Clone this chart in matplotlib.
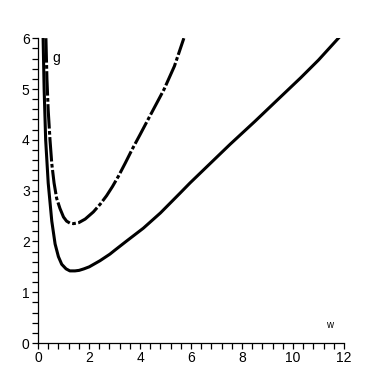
import numpy as np
import matplotlib
matplotlib.use("Agg")
import matplotlib.pyplot as plt
from matplotlib.ticker import MultipleLocator

# solid curve
solid_w = [0.20, 0.24, 0.30, 0.40, 0.54, 0.67, 0.80, 0.93, 1.10, 1.25, 1.45,
           1.61, 1.80, 2.01, 2.43, 2.82, 3.02, 3.48, 4.13, 4.80, 5.57, 5.96,
           6.60, 7.53, 8.50, 9.42, 10.30, 11.00, 11.78]
solid_g = [6.00, 5.00, 4.00, 3.15, 2.40, 1.95, 1.70, 1.55, 1.46, 1.42, 1.42,
           1.43, 1.46, 1.50, 1.62, 1.75, 1.83, 2.01, 2.26, 2.56, 2.95, 3.15,
           3.46, 3.91, 4.36, 4.80, 5.22, 5.57, 6.00]

# dash-dot curve
dash_w = [0.31, 0.35, 0.40, 0.47, 0.54, 0.63, 0.73, 0.86, 1.00, 1.12, 1.25,
          1.39, 1.60, 1.85, 2.17, 2.45, 2.69, 2.92, 3.15, 3.42, 3.70, 4.00,
          4.40, 4.94, 5.35, 5.72]
dash_g = [6.00, 5.20, 4.58, 4.00, 3.53, 3.15, 2.85, 2.65, 2.48, 2.40, 2.36,
          2.35, 2.37, 2.44, 2.58, 2.74, 2.90, 3.08, 3.28, 3.54, 3.82, 4.10,
          4.48, 4.99, 5.45, 6.00]

x_ticks = [0, 2, 4, 6, 8, 10, 12]
y_ticks = [0, 1, 2, 3, 4, 5, 6]

plt.rcParams['font.family'] = ['Liberation Sans', 'DejaVu Sans']

fig = plt.figure(figsize=(3.82, 3.82), dpi=100)
ax = fig.add_axes([0.0995, 0.102, 0.801, 0.798])

ax.plot(solid_w, solid_g, color="black", lw=2.2, solid_joinstyle="round")
ax.plot(dash_w, dash_g, color="black", lw=2.2, dash_joinstyle="round",
        dashes=(8, 0.8, 1.2, 0.8))

ax.set_xlim(0, 12)
ax.set_ylim(0, 6)
ax.set_xticks(x_ticks)
ax.set_yticks(y_ticks)
ax.xaxis.set_minor_locator(MultipleLocator(0.4))
ax.yaxis.set_minor_locator(MultipleLocator(0.2))
ax.tick_params(which="both", direction="out", length=4, width=0.9,
               labelsize=10, pad=2)

for s in ["top", "right"]:
    ax.spines[s].set_visible(False)
ax.spines["left"].set_linewidth(0.9)
ax.spines["bottom"].set_linewidth(0.9)

ax.text(0.55, 5.62, "g", fontsize=10, va="center", ha="left")
ax.text(11.45, 0.35, "w", fontsize=7, va="center", ha="center")

fig.savefig("out.png", dpi=100)
